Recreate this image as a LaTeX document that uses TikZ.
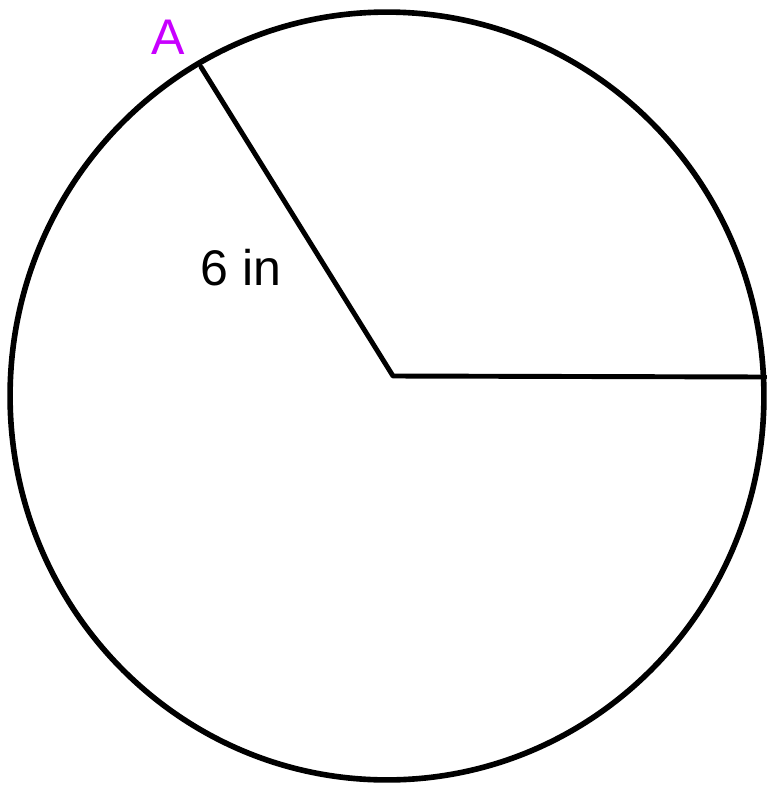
\documentclass[tikz,border=0pt]{standalone}
\usepackage{fontspec}
\setmainfont{Liberation Sans}
\usetikzlibrary{positioning}
\definecolor{ptpurple}{RGB}{200,0,255}

\begin{document}
\begin{tikzpicture}[
  x=0.02cm, y=-0.02cm,
  rim/.style={draw, line width=3.2pt},
  spoke/.style={draw, line width=2.8pt, line cap=round, line join=round},
  lbl/.style={inner sep=0pt, font=\fontsize{28.5}{34}\selectfont}
]
\useasboundingbox (0,0) rectangle (767,785);

\draw[rim] (387,396) ellipse [x radius=7.54cm, y radius=7.68cm];

\coordinate (O) at (393,376);
\coordinate (R) at (765,377);
\coordinate (P) at (201,67);

\draw[spoke] (P) -- (O) -- (R);

\node[lbl, text=ptpurple] (ptA) at (168,37) {A};
\node[lbl] (len) at (241,268) {6 in};

\end{tikzpicture}
\end{document}
